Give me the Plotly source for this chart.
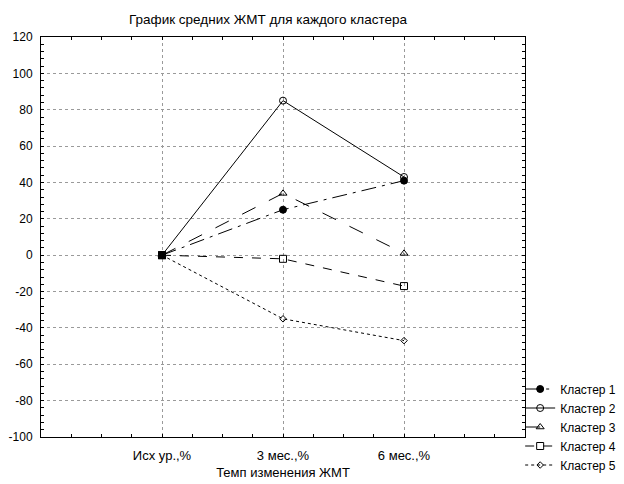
import plotly.graph_objects as go

categories = ["Исх ур.,%", "3 мес.,%", "6 мес.,%"]
series_names = ["Кластер 1", "Кластер 2", "Кластер 3", "Кластер 4", "Кластер 5"]
cluster1 = [0, 25, 41]
cluster2 = [0, 85, 43]
cluster3 = [0, 34, 1]
cluster4 = [0, -2, -17]
cluster5 = [0, -35, -47]
y_ticks = list(range(-100, 121, 20))
y_tick_labels = [str(v) for v in y_ticks]

values = [cluster1, cluster2, cluster3, cluster4, cluster5]
dashes = ["longdashdot", "solid", "longdash", "dash", "dot"]
symbols = ["circle", "circle-open", "triangle-up-open", "square-open", "diamond-open"]
sizes = [7, 7, 7, 7, 5]

FONT = "Liberation Sans, Arial, sans-serif"

# figure sized for the page's 8px body margin
W, H = 616, 476
L, R, T, B = 33, 99, 29, 47

fig = go.Figure()
xpos = list(range(len(categories)))
for name, vals, d, s, sz in zip(series_names, values, dashes, symbols, sizes):
    fig.add_trace(go.Scatter(
        x=xpos, y=vals, name=name, mode="lines+markers",
        line=dict(color="black", width=1, dash=d),
        marker=dict(symbol=s, size=sz, color="black", line=dict(color="black", width=1)),
    ))
# filled square at origin where all lines meet
fig.add_trace(go.Scatter(x=[xpos[0]], y=[cluster1[0]], mode="markers",
                         marker=dict(symbol="square", size=8, color="black"),
                         showlegend=False, hoverinfo="skip"))

fig.update_layout(
    width=W, height=H,
    margin=dict(l=L, r=R, t=T, b=B, autoexpand=False),
    paper_bgcolor="white", plot_bgcolor="white",
    font=dict(family=FONT, size=13, color="black"),
    title=dict(text="График средних ЖМТ для каждого кластера", x=260 / W, xanchor="center",
               y=1 - 11 / H, yanchor="middle", font=dict(size=13.5, family=FONT)),
    showlegend=True,
    legend=dict(x=0.99, xanchor="left", y=0.025, yanchor="middle",
                font=dict(size=12, family=FONT), tracegroupgap=0,
                itemwidth=30, bgcolor="rgba(0,0,0,0)"),
)
fig.update_xaxes(
    range=[-1, 3], tickmode="array", tickvals=xpos, ticktext=categories,
    showgrid=True, gridcolor="#9a9a9a", griddash="dot", gridwidth=1,
    showline=True, linecolor="black", linewidth=1, mirror="allticks",
    ticks="inside", ticklen=3, tickcolor="black", ticklabelstandoff=6,
    minor=dict(dtick=0.25, tick0=0, ticks="inside", ticklen=3, tickcolor="black", showgrid=False),
    zeroline=False,
    title=dict(text="Темп изменения ЖМТ", standoff=6, font=dict(size=13)),
)
fig.update_yaxes(
    range=[-100, 120], tickmode="array", tickvals=y_ticks, ticktext=y_tick_labels,
    tickfont=dict(size=12),
    showgrid=True, gridcolor="#9a9a9a", griddash="dot", gridwidth=1,
    showline=True, linecolor="black", linewidth=1, mirror="allticks",
    ticks="inside", ticklen=3, tickcolor="black", ticklabelstandoff=5,
    minor=dict(dtick=4, tick0=0, ticks="inside", ticklen=3, tickcolor="black", showgrid=False),
    zeroline=False,
)

fig.write_html("out.html")
